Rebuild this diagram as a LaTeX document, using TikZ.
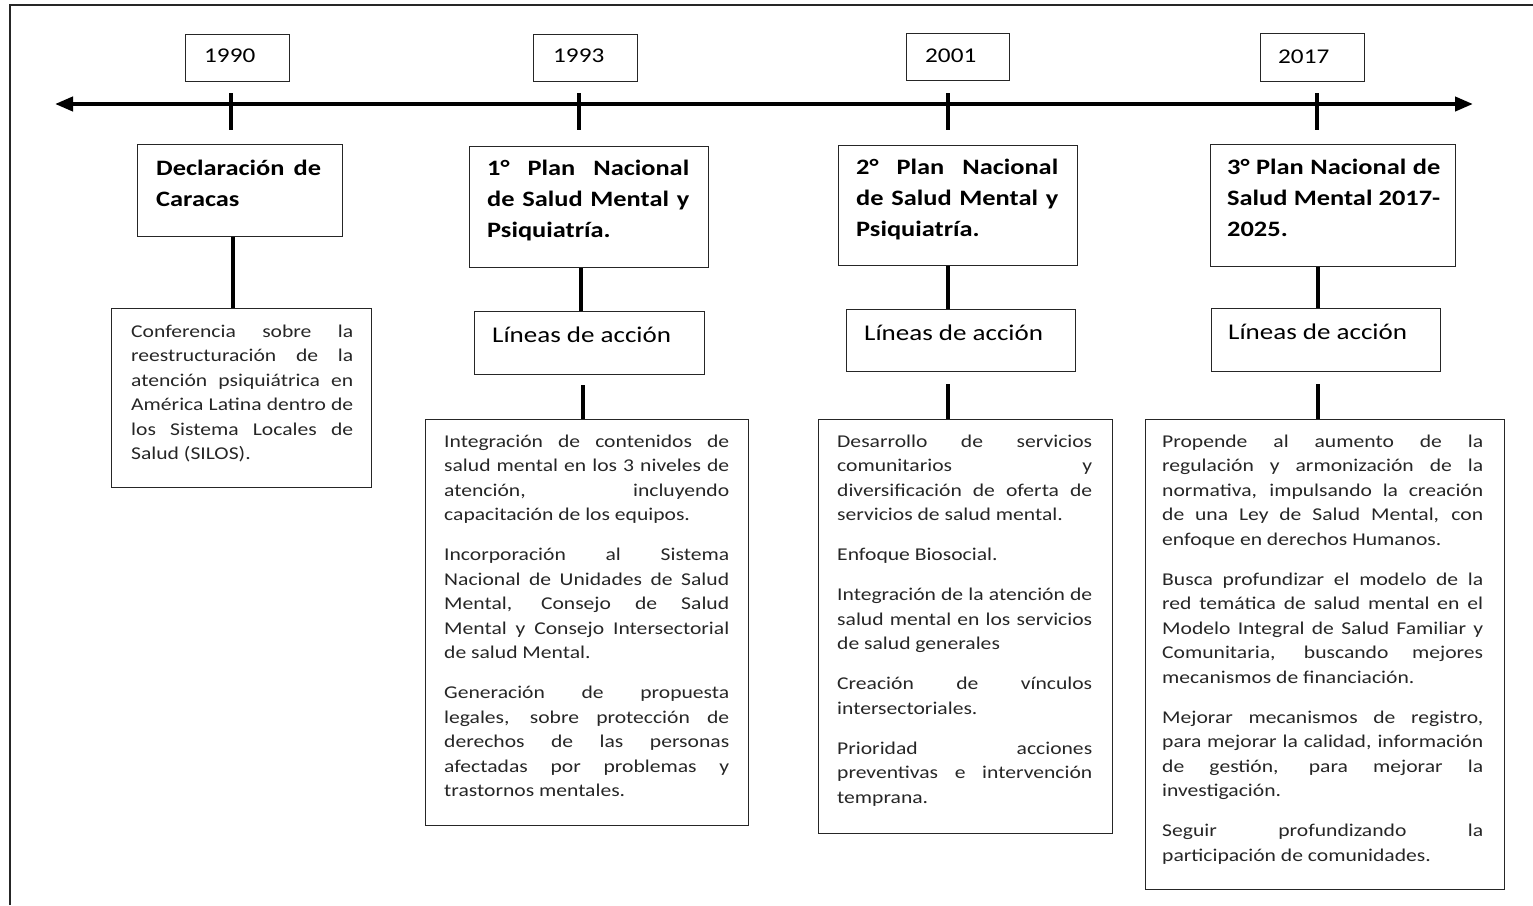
\documentclass[tikz,border=0pt]{standalone}
\usepackage{fontspec}
\setmainfont{Carlito}[FakeStretch=1.2]
\usetikzlibrary{arrows.meta}
\tolerance=10000
\hbadness=10000
\hfuzz=20pt
\hyphenpenalty=10000
\exhyphenpenalty=10000
\newcommand\bodyset{\setlength{\parskip}{15.5pt}\setlength{\parindent}{0pt}\strut}
\newcommand\titleset{\setlength{\parindent}{0pt}\strut}
\begin{document}
\begin{tikzpicture}[x=1pt,y=-1pt,
  frameline/.style={line width=2pt, draw=black!85},
  axis/.style={line width=4pt, {Triangle[length=18pt,width=14pt]}-{Triangle[length=18pt,width=14pt]}},
  tickline/.style={line width=4pt},
  conn/.style={line width=4pt},
  box/.style={draw=black!85, line width=1.3pt, anchor=north west, inner sep=0pt},
  yeartxt/.style={anchor=base west, inner sep=0pt, font=\fontsize{21}{26}\selectfont},
  lintxt/.style={anchor=base west, inner sep=0pt, font=\fontsize{22.5}{28}\selectfont},
  titletxt/.style={anchor=north west, inner sep=0pt, align=justify, font=\fontsize{22}{31}\selectfont\bfseries},
  bodytxt/.style={anchor=north west, inner sep=0pt, align=justify, text=black!85, font=\fontsize{18}{24.5}\selectfont}
]
\useasboundingbox (0,0) rectangle (1533,905);

% frame
\draw[frameline] (10,905) -- (10,5) -- (1533,5);

% timeline
\coordinate (axL) at (55,104);
\coordinate (axR) at (1473,104);
\draw[axis] (axL) -- (axR);

% ticks
\coordinate (k1a) at (231,93); \coordinate (k1b) at (231,130);
\coordinate (k2a) at (579,93); \coordinate (k2b) at (579,130);
\coordinate (k3a) at (948,93); \coordinate (k3b) at (948,130);
\coordinate (k4a) at (1317,93); \coordinate (k4b) at (1317,130);
\draw[tickline] (k1a) -- (k1b);
\draw[tickline] (k2a) -- (k2b);
\draw[tickline] (k3a) -- (k3b);
\draw[tickline] (k4a) -- (k4b);

% year boxes
\node[box, minimum width=104pt, minimum height=47pt] (y1) at (185,34) {};
\node[box, minimum width=104pt, minimum height=47pt] (y2) at (533,34) {};
\node[box, minimum width=103pt, minimum height=47pt] (y3) at (906,33) {};
\node[box, minimum width=104pt, minimum height=48pt] (y4) at (1260,33) {};
\node[yeartxt] (y1t) at (204,62.5) {1990};
\node[yeartxt] (y2t) at (553,62.5) {1993};
\node[yeartxt] (y3t) at (925,62.5) {2001};
\node[yeartxt] (y4t) at (1278,63) {2017};

% title boxes
\node[box, minimum width=205pt, minimum height=92pt] (t1) at (137,144) {};
\node[box, minimum width=239pt, minimum height=121pt] (t2) at (469,146) {};
\node[box, minimum width=239pt, minimum height=120pt] (t3) at (838,145) {};
\node[box, minimum width=245pt, minimum height=122pt] (t4) at (1210,144) {};
\node[titletxt, text width=165pt] (t1t) at (156,154) {\titleset Declaración de\linebreak Caracas};
\node[titletxt, text width=202pt] (t2t) at (487,154) {\titleset 1° Plan Nacional\linebreak de Salud Mental y\linebreak Psiquiatría.};
\node[titletxt, text width=202pt] (t3t) at (856,153) {\titleset 2° Plan Nacional\linebreak de Salud Mental y\linebreak Psiquiatría.};
\node[titletxt, text width=213pt] (t4t) at (1227,153) {\titleset 3° Plan Nacional de\linebreak Salud Mental 2017-\linebreak 2025.};

% lineas de accion boxes
\node[box, minimum width=230pt, minimum height=63pt] (l2) at (474,311) {};
\node[box, minimum width=229pt, minimum height=62pt] (l3) at (846,309) {};
\node[box, minimum width=229pt, minimum height=63pt] (l4) at (1211,308) {};
\node[lintxt] (l2t) at (492,342) {Líneas de acción};
\node[lintxt] (l3t) at (864,340) {Líneas de acción};
\node[lintxt] (l4t) at (1228,339) {Líneas de acción};

% content boxes
\node[box, minimum width=260pt, minimum height=179pt] (c1) at (111,308) {};
\node[box, minimum width=323pt, minimum height=406pt] (c2) at (425,419) {};
\node[box, minimum width=294pt, minimum height=414pt] (c3) at (818,419) {};
\node[box, minimum width=359pt, minimum height=470pt] (c4) at (1145,419) {};

\node[bodytxt, text width=222pt] (c1t) at (131,320) {\bodyset Conferencia sobre la\linebreak reestructuración de la\linebreak atención psiquiátrica en\linebreak América Latina dentro de\linebreak los Sistema Locales de\linebreak Salud (SILOS).};

\node[bodytxt, text width=285pt] (c2t) at (444,430) {\bodyset Integración de contenidos de\linebreak salud mental en los 3 niveles de\linebreak atención, incluyendo\linebreak capacitación de los equipos.\par
Incorporación al Sistema\linebreak Nacional de Unidades de Salud\linebreak Mental, Consejo de Salud\linebreak Mental y Consejo Intersectorial\linebreak de salud Mental.\par
Generación de propuesta\linebreak legales, sobre protección de\linebreak derechos de las personas\linebreak afectadas por problemas y\linebreak trastornos mentales.};

\node[bodytxt, text width=255pt] (c3t) at (837,430) {\bodyset Desarrollo de servicios\linebreak comunitarios y\linebreak diversificación de oferta de\linebreak servicios de salud mental.\par
Enfoque Biosocial.\par
Integración de la atención de\linebreak salud mental en los servicios\linebreak de salud generales\par
Creación de vínculos\linebreak intersectoriales.\par
Prioridad acciones\linebreak preventivas e intervención\linebreak temprana.};

\node[bodytxt, text width=321pt] (c4t) at (1162,430) {\bodyset Propende al aumento de la\linebreak regulación y armonización de la\linebreak normativa, impulsando la creación\linebreak de una Ley de Salud Mental, con\linebreak enfoque en derechos Humanos.\par
Busca profundizar el modelo de la\linebreak red temática de salud mental en el\linebreak Modelo Integral de Salud Familiar y\linebreak Comunitaria, buscando mejores\linebreak mecanismos de financiación.\par
Mejorar mecanismos de registro,\linebreak para mejorar la calidad, información\linebreak de gestión, para mejorar la\linebreak investigación.\par
Seguir profundizando la\linebreak participación de comunidades.};

% connectors
\draw[conn] (t1.south -| 233,0) -- (c1.north -| 233,0);
\draw[conn] (t2.south -| 581,0) -- (l2.north -| 581,0);
\draw[conn, shorten <=10pt] (l2.south -| 583,0) -- (c2.north -| 583,0);
\draw[conn] (t3.south -| 948,0) -- (l3.north -| 948,0);
\draw[conn, shorten <=12pt] (l3.south -| 948,0) -- (c3.north -| 948,0);
\draw[conn] (t4.south -| 1318,0) -- (l4.north -| 1318,0);
\draw[conn, shorten <=12pt] (l4.south -| 1318,0) -- (c4.north -| 1318,0);
\end{tikzpicture}
\end{document}
